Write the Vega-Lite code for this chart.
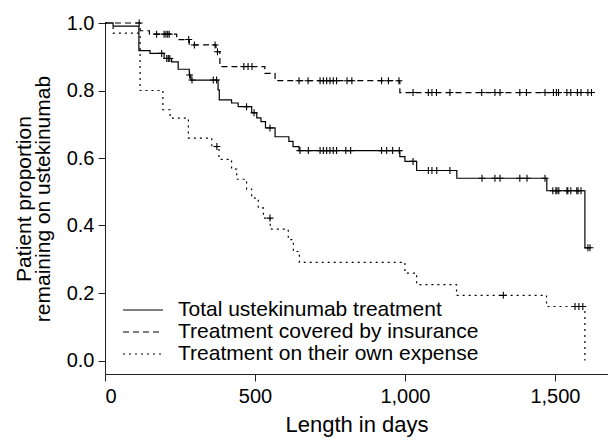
{
  "$schema": "https://vega.github.io/schema/vega-lite/v6.json",
  "width": 503,
  "height": 351,
  "autosize": {"type": "none"},
  "padding": {"left": 105, "top": 23, "right": 0, "bottom": 67},
  "background": "white",
  "config": {
    "view": {"stroke": null},
    "font": "Liberation Sans",
    "axis": {"grid": false, "domainColor": "#222", "tickColor": "#222", "labelColor": "#000", "titleColor": "#000", "labelFont": "Liberation Sans", "titleFont": "Liberation Sans", "titleFontWeight": "normal", "labelFontSize": 20, "titleFontSize": 21, "tickSize": 7, "labelPadding": 4}
  },
  "datasets": {
    "curve": [
      {"g": "Total ustekinumab treatment", "day": 0, "s": 1.0},
      {"g": "Total ustekinumab treatment", "day": 27, "s": 0.991},
      {"g": "Total ustekinumab treatment", "day": 113, "s": 0.918},
      {"g": "Total ustekinumab treatment", "day": 150, "s": 0.910},
      {"g": "Total ustekinumab treatment", "day": 197, "s": 0.895},
      {"g": "Total ustekinumab treatment", "day": 222, "s": 0.885},
      {"g": "Total ustekinumab treatment", "day": 244, "s": 0.863},
      {"g": "Total ustekinumab treatment", "day": 281, "s": 0.846},
      {"g": "Total ustekinumab treatment", "day": 286, "s": 0.831},
      {"g": "Total ustekinumab treatment", "day": 377, "s": 0.802},
      {"g": "Total ustekinumab treatment", "day": 381, "s": 0.772},
      {"g": "Total ustekinumab treatment", "day": 422, "s": 0.763},
      {"g": "Total ustekinumab treatment", "day": 444, "s": 0.752},
      {"g": "Total ustekinumab treatment", "day": 489, "s": 0.734},
      {"g": "Total ustekinumab treatment", "day": 506, "s": 0.719},
      {"g": "Total ustekinumab treatment", "day": 520, "s": 0.708},
      {"g": "Total ustekinumab treatment", "day": 535, "s": 0.689},
      {"g": "Total ustekinumab treatment", "day": 567, "s": 0.663},
      {"g": "Total ustekinumab treatment", "day": 613, "s": 0.649},
      {"g": "Total ustekinumab treatment", "day": 627, "s": 0.634},
      {"g": "Total ustekinumab treatment", "day": 647, "s": 0.622},
      {"g": "Total ustekinumab treatment", "day": 983, "s": 0.604},
      {"g": "Total ustekinumab treatment", "day": 1000, "s": 0.590},
      {"g": "Total ustekinumab treatment", "day": 1039, "s": 0.563},
      {"g": "Total ustekinumab treatment", "day": 1173, "s": 0.540},
      {"g": "Total ustekinumab treatment", "day": 1473, "s": 0.503},
      {"g": "Total ustekinumab treatment", "day": 1600, "s": 0.334},
      {"g": "Total ustekinumab treatment", "day": 1617, "s": 0.334},
      {"g": "Treatment covered by insurance", "day": 0, "s": 1.0},
      {"g": "Treatment covered by insurance", "day": 117, "s": 0.977},
      {"g": "Treatment covered by insurance", "day": 148, "s": 0.967},
      {"g": "Treatment covered by insurance", "day": 239, "s": 0.951},
      {"g": "Treatment covered by insurance", "day": 281, "s": 0.935},
      {"g": "Treatment covered by insurance", "day": 370, "s": 0.915},
      {"g": "Treatment covered by insurance", "day": 383, "s": 0.871},
      {"g": "Treatment covered by insurance", "day": 533, "s": 0.851},
      {"g": "Treatment covered by insurance", "day": 567, "s": 0.829},
      {"g": "Treatment covered by insurance", "day": 983, "s": 0.794},
      {"g": "Treatment covered by insurance", "day": 1625, "s": 0.794},
      {"g": "Treatment on their own expense", "day": 0, "s": 1.0},
      {"g": "Treatment on their own expense", "day": 27, "s": 0.970},
      {"g": "Treatment on their own expense", "day": 117, "s": 0.800},
      {"g": "Treatment on their own expense", "day": 193, "s": 0.743},
      {"g": "Treatment on their own expense", "day": 217, "s": 0.718},
      {"g": "Treatment on their own expense", "day": 278, "s": 0.659},
      {"g": "Treatment on their own expense", "day": 356, "s": 0.634},
      {"g": "Treatment on their own expense", "day": 380, "s": 0.596},
      {"g": "Treatment on their own expense", "day": 422, "s": 0.567},
      {"g": "Treatment on their own expense", "day": 439, "s": 0.537},
      {"g": "Treatment on their own expense", "day": 472, "s": 0.508},
      {"g": "Treatment on their own expense", "day": 489, "s": 0.481},
      {"g": "Treatment on their own expense", "day": 511, "s": 0.452},
      {"g": "Treatment on their own expense", "day": 528, "s": 0.422},
      {"g": "Treatment on their own expense", "day": 551, "s": 0.389},
      {"g": "Treatment on their own expense", "day": 611, "s": 0.358},
      {"g": "Treatment on their own expense", "day": 628, "s": 0.323},
      {"g": "Treatment on their own expense", "day": 648, "s": 0.291},
      {"g": "Treatment on their own expense", "day": 1000, "s": 0.259},
      {"g": "Treatment on their own expense", "day": 1039, "s": 0.225},
      {"g": "Treatment on their own expense", "day": 1172, "s": 0.193},
      {"g": "Treatment on their own expense", "day": 1472, "s": 0.160},
      {"g": "Treatment on their own expense", "day": 1600, "s": 0.0}
    ],
    "censor": [
      {"day": 189, "s": 0.910}, {"day": 206, "s": 0.895}, {"day": 211, "s": 0.895}, {"day": 216, "s": 0.895},
      {"day": 282, "s": 0.846}, {"day": 290, "s": 0.831}, {"day": 361, "s": 0.831}, {"day": 372, "s": 0.831},
      {"day": 472, "s": 0.752}, {"day": 497, "s": 0.734}, {"day": 550, "s": 0.689},
      {"day": 650, "s": 0.622}, {"day": 678, "s": 0.622}, {"day": 717, "s": 0.622}, {"day": 728, "s": 0.622},
      {"day": 739, "s": 0.622}, {"day": 750, "s": 0.622}, {"day": 761, "s": 0.622}, {"day": 772, "s": 0.622},
      {"day": 803, "s": 0.622}, {"day": 819, "s": 0.622}, {"day": 922, "s": 0.622}, {"day": 939, "s": 0.622},
      {"day": 959, "s": 0.622}, {"day": 981, "s": 0.622},
      {"day": 1027, "s": 0.590}, {"day": 1078, "s": 0.563}, {"day": 1090, "s": 0.563}, {"day": 1106, "s": 0.563}, {"day": 1150, "s": 0.563},
      {"day": 1257, "s": 0.540}, {"day": 1300, "s": 0.540}, {"day": 1317, "s": 0.540}, {"day": 1383, "s": 0.540}, {"day": 1407, "s": 0.540}, {"day": 1467, "s": 0.540},
      {"day": 1493, "s": 0.503}, {"day": 1503, "s": 0.503}, {"day": 1507, "s": 0.503}, {"day": 1513, "s": 0.503}, {"day": 1540, "s": 0.503},
      {"day": 1543, "s": 0.503}, {"day": 1553, "s": 0.503}, {"day": 1573, "s": 0.503}, {"day": 1577, "s": 0.503}, {"day": 1587, "s": 0.503},
      {"day": 1610, "s": 0.334}, {"day": 1617, "s": 0.334},
      {"day": 114, "s": 1.0}, {"day": 172, "s": 0.967}, {"day": 197, "s": 0.967}, {"day": 203, "s": 0.967}, {"day": 209, "s": 0.967}, {"day": 214, "s": 0.967},
      {"day": 279, "s": 0.951}, {"day": 298, "s": 0.935}, {"day": 367, "s": 0.935}, {"day": 375, "s": 0.915},
      {"day": 463, "s": 0.871}, {"day": 477, "s": 0.871}, {"day": 490, "s": 0.871},
      {"day": 647, "s": 0.829}, {"day": 677, "s": 0.829}, {"day": 717, "s": 0.829}, {"day": 728, "s": 0.829}, {"day": 739, "s": 0.829},
      {"day": 750, "s": 0.829}, {"day": 761, "s": 0.829}, {"day": 772, "s": 0.829}, {"day": 807, "s": 0.829}, {"day": 823, "s": 0.829},
      {"day": 922, "s": 0.829}, {"day": 945, "s": 0.829}, {"day": 980, "s": 0.829},
      {"day": 1027, "s": 0.794}, {"day": 1078, "s": 0.794}, {"day": 1090, "s": 0.794}, {"day": 1105, "s": 0.794}, {"day": 1150, "s": 0.794},
      {"day": 1256, "s": 0.794}, {"day": 1300, "s": 0.794}, {"day": 1317, "s": 0.794}, {"day": 1383, "s": 0.794}, {"day": 1405, "s": 0.794},
      {"day": 1467, "s": 0.794}, {"day": 1495, "s": 0.794}, {"day": 1505, "s": 0.794}, {"day": 1512, "s": 0.794}, {"day": 1540, "s": 0.794},
      {"day": 1553, "s": 0.794}, {"day": 1575, "s": 0.794}, {"day": 1587, "s": 0.794}, {"day": 1610, "s": 0.794}, {"day": 1622, "s": 0.794},
      {"day": 373, "s": 0.634}, {"day": 550, "s": 0.422}, {"day": 1328, "s": 0.193},
      {"day": 1567, "s": 0.160}, {"day": 1580, "s": 0.160}, {"day": 1593, "s": 0.160}
    ]
  },
  "layer": [
    {
      "data": {"name": "curve"},
      "mark": {"type": "line", "interpolate": "step-after", "color": "black", "strokeWidth": 1.2},
      "encoding": {
        "x": {"field": "day", "type": "quantitative", "scale": {"domain": [0, 1677], "nice": false},
          "axis": {"values": [0, 500, 1000, 1500], "format": ",d", "title": "Length in days", "titleFontSize": 22, "titlePadding": 8, "labelPadding": 5}},
        "y": {"field": "s", "type": "quantitative", "scale": {"domain": [-0.04, 1.0], "nice": false, "zero": false},
          "axis": {"values": [0, 0.2, 0.4, 0.6, 0.8, 1.0], "format": ".1f", "title": ["Patient proportion", "remaining on ustekinumab"], "titleFontSize": 21, "titleLineHeight": 19, "titlePadding": 13}},
        "strokeDash": {"field": "g", "type": "nominal",
          "scale": {"domain": ["Total ustekinumab treatment", "Treatment covered by insurance", "Treatment on their own expense"], "range": [[1, 0], [6, 4], [2, 4]]},
          "legend": {"title": null, "orient": "none", "legendX": 27, "legendY": 276, "symbolType": "M-2,0L2,0", "symbolSize": 400, "symbolStrokeWidth": 1.2, "symbolStrokeColor": "black", "symbolFillColor": "transparent", "labelFontSize": 21, "labelFont": "Liberation Sans", "labelColor": "black", "labelOffset": 24, "labelLimit": 500, "rowPadding": 1, "padding": 0}}
      }
    },
    {
      "data": {"name": "censor"},
      "mark": {"type": "point", "shape": "M-1,0L1,0M0,-1L0,1", "size": 49, "color": "black", "filled": false, "strokeWidth": 1.1, "opacity": 1},
      "encoding": {
        "x": {"field": "day", "type": "quantitative"},
        "y": {"field": "s", "type": "quantitative"}
      }
    }
  ]
}
